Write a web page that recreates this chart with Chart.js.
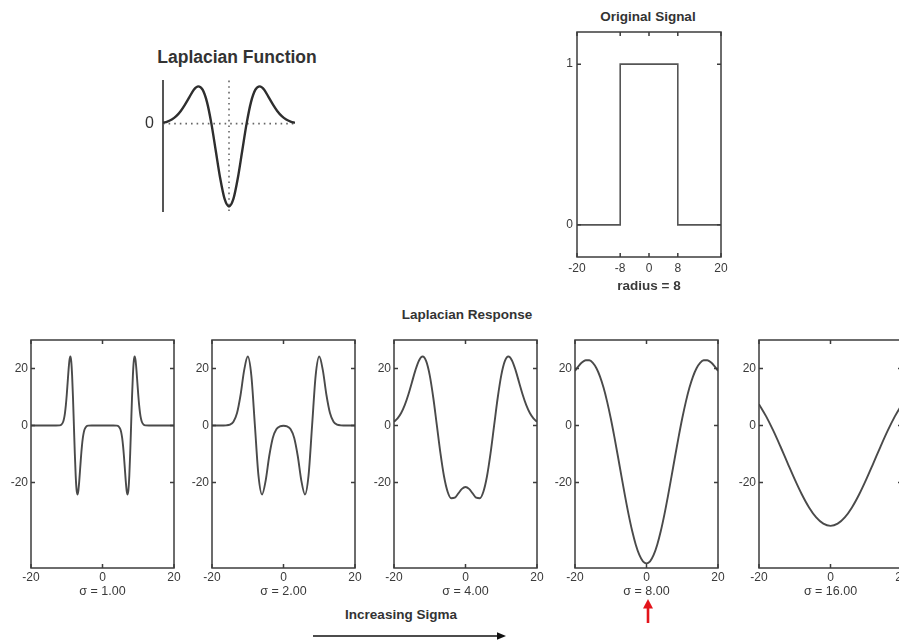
<!DOCTYPE html>
<html>
<head>
<meta charset="utf-8">
<title>Laplacian Response</title>
<script src="https://cdn.jsdelivr.net/npm/chart.js@4.4.1/dist/chart.umd.min.js"></script>
<style>
  html, body { margin: 0; padding: 0; background: #fff; }
  body { width: 899px; height: 643px; overflow: hidden; position: relative;
         font-family: 'Liberation Sans', Arial, Helvetica, sans-serif; }
  canvas { position: absolute; }
  .lbl { position: absolute; transform: translate(-50%, -50%); white-space: nowrap;
         color: #333; font-weight: bold; line-height: 1; }
  svg.deco { position: absolute; left: 0; top: 0; pointer-events: none; }
</style>
</head>
<body>

<div class="lbl" style="left:237px;top:58px;font-size:17.5px;">Laplacian Function</div>
<div class="lbl" style="left:648px;top:17px;font-size:13.5px;">Original Signal</div>
<div class="lbl" style="left:467px;top:315px;font-size:13.5px;">Laplacian Response</div>
<div class="lbl" style="left:401px;top:615px;font-size:13.5px;">Increasing Sigma</div>

<canvas id="kernel" width="165" height="168" style="left:138px;top:62px;"></canvas>
<canvas id="signal" width="188" height="275" style="left:547px;top:20px;"></canvas>
<canvas id="r1" width="197" height="272" style="left:-9px;top:328px;"></canvas>
<canvas id="r2" width="197" height="272" style="left:172px;top:328px;"></canvas>
<canvas id="r3" width="197" height="272" style="left:354px;top:328px;"></canvas>
<canvas id="r4" width="197" height="272" style="left:535px;top:328px;"></canvas>
<canvas id="r5" width="197" height="272" style="left:719px;top:328px;"></canvas>

<svg class="deco" width="899" height="643">
  <line x1="313" y1="636" x2="499" y2="636" stroke="#111" stroke-width="1.3"/>
  <polygon points="497,632.3 506,636 497,639.7" fill="#111"/>
  <line x1="648" y1="623" x2="648" y2="606" stroke="#e3141b" stroke-width="2.6"/>
  <polygon points="643,608.5 648,599 653,608.5" fill="#e3141b"/>
</svg>

<script>
// ---- Laplacian kernel profile ----
const kernelX = [-3.75, -3.5, -3.25, -3, -2.75, -2.5, -2.25, -2, -1.75, -1.5, -1.25, -1, -0.75, -0.5, -0.25,
                 0, 0.25, 0.5, 0.75, 1, 1.25, 1.5, 1.75, 2, 2.25, 2.5, 2.75, 3, 3.25, 3.5, 3.75];
const kernelY = [0.01, 0.025, 0.05, 0.09, 0.15, 0.23, 0.32, 0.41, 0.45, 0.41, 0.26, 0, -0.33, -0.66, -0.91,
                 -1, -0.91, -0.66, -0.33, 0, 0.26, 0.41, 0.45, 0.41, 0.32, 0.23, 0.15, 0.09, 0.05, 0.025, 0.01];
const kernelYTicks = [0];

// ---- Input pulse, radius 8 ----
const signalX = [-20, -8, -8, 8, 8, 20];
const signalY = [0, 0, 1, 1, 0, 0];
const signalXTicks = [-20, -8, 0, 8, 20];
const signalYTicks = [0, 1];
const signalTitle = 'radius = 8';

// ---- Responses for increasing sigma ----
const sigmaLabels = ['σ = 1.00', 'σ = 2.00', 'σ = 4.00', 'σ = 8.00', 'σ = 16.00'];
const responseXTicks = [-20, 0, 20];
const responseYTicks = [-20, 0, 20];

const resp1X = [-20, -16, -13, -12, -11.5, -11, -10.75, -10.5, -10.25, -10, -9.75, -9.5, -9.25, -9,
                -8.75, -8.5, -8.25, -8, -7.75, -7.5, -7.25, -7, -6.75, -6.5, -6.25, -6, -5.75, -5.5,
                -5.25, -5, -4.5, -4, -3, 0, 3, 4, 4.5, 5, 5.25, 5.5, 5.75, 6, 6.25, 6.5, 6.75, 7,
                7.25, 7.5, 7.75, 8, 8.25, 8.5, 8.75, 9, 9.25, 9.5, 9.75, 10, 10.25, 10.5, 10.75, 11,
                11.5, 12, 13, 16, 20];
const resp1Y = [0, 0, 0, 0.05, 0.31, 1.33, 2.5, 4.38, 7.14, 10.8, 15.1, 19.43, 22.83, 24.2,
                22.59, 17.6, 9.67, 0, -9.67, -17.6, -22.59, -24.2, -22.83, -19.43, -15.1, -10.8, -7.14, -4.38,
                -2.5, -1.33, -0.31, -0.05, 0, 0, 0, -0.05, -0.31, -1.33, -2.5, -4.38, -7.14, -10.8, -15.1, -19.43, -22.83, -24.2,
                -22.59, -17.6, -9.67, 0, 9.67, 17.6, 22.59, 24.2, 22.83, 19.43, 15.1, 10.8, 7.14, 4.38, 2.5, 1.33,
                0.31, 0.05, 0, 0, 0];

const unitX = [-20, -19, -18, -17, -16, -15, -14, -13, -12, -11, -10, -9, -8, -7, -6, -5, -4, -3, -2, -1, 0,
               1, 2, 3, 4, 5, 6, 7, 8, 9, 10, 11, 12, 13, 14, 15, 16, 17, 18, 19, 20];
const resp2Y = [0, 0, 0, 0.01, 0.05, 0.31, 1.33, 4.38, 10.8, 19.43, 24.2, 17.6, 0, -17.6, -24.2, -19.43, -10.8, -4.38, -1.33, -0.31, -0.11,
                -0.31, -1.33, -4.38, -10.8, -19.43, -24.2, -17.6, 0, 17.6, 24.2, 19.43, 10.8, 4.38, 1.33, 0.31, 0.05, 0.01, 0, 0, 0];
const resp4Y = [1.33, 2.5, 4.38, 7.14, 10.8, 15.1, 19.43, 22.83, 24.2, 22.59, 17.6, 9.65, -0.05, -9.8, -17.91, -23.24, -25.53, -25.33, -23.81, -22.24, -21.6,
                -22.24, -23.81, -25.33, -25.53, -23.24, -17.91, -9.8, -0.05, 9.65, 17.6, 22.59, 24.2, 22.83, 19.43, 15.1, 10.8, 7.14, 4.38, 2.5, 1.33];
const resp8Y = [19.12, 20.86, 22.17, 22.89, 22.87, 21.97, 20.09, 17.17, 13.22, 8.3, 2.53, -3.92, -10.8, -17.85, -24.77, -31.26, -37.03, -41.82, -45.42, -47.64, -48.39,
                -47.64, -45.42, -41.82, -37.03, -31.26, -24.77, -17.85, -10.8, -3.92, 2.53, 8.3, 13.22, 17.17, 20.09, 21.97, 22.87, 22.89, 22.17, 20.86, 19.12];

const resp16X = [-20, -18, -16, -14, -12, -10, -8, -6, -4, -2, 0, 2, 4, 6, 8, 10, 12, 14, 16, 18, 20];
const resp16Y = [7.49, 3.2, -1.82, -7.37, -13.16, -18.89, -24.2, -28.75, -32.25, -34.45, -35.21,
                 -34.45, -32.25, -28.75, -24.2, -18.89, -13.16, -7.37, -1.82, 3.2, 7.49];

// ---- drawing ----
Chart.defaults.font.family = "'Liberation Sans', Arial, Helvetica, sans-serif";
Chart.defaults.color = '#3a3a3a';

const pts = (xs, ys) => xs.map((x, i) => ({ x, y: ys[i] }));
const fixedTicks = values => scale => { scale.ticks = values.map(v => ({ value: v })); };

// full box around the plot area with short inward tick marks on all four sides
const boxFrame = {
  id: 'boxFrame',
  afterDatasetsDraw(chart, args, o) {
    const { ctx, chartArea: a, scales: { x, y } } = chart;
    ctx.save();
    ctx.strokeStyle = o.color;
    ctx.lineWidth = o.width;
    ctx.strokeRect(a.left, a.top, a.right - a.left, a.bottom - a.top);
    ctx.beginPath();
    x.ticks.forEach(t => {
      const px = x.getPixelForValue(t.value);
      ctx.moveTo(px, a.bottom); ctx.lineTo(px, a.bottom - o.tick);
      ctx.moveTo(px, a.top); ctx.lineTo(px, a.top + o.tick);
    });
    y.ticks.forEach(t => {
      const py = y.getPixelForValue(t.value);
      ctx.moveTo(a.left, py); ctx.lineTo(a.left + o.tick, py);
      ctx.moveTo(a.right, py); ctx.lineTo(a.right - o.tick, py);
    });
    ctx.stroke();
    ctx.restore();
  }
};

// dotted zero guides for the kernel sketch
const zeroGuides = {
  id: 'zeroGuides',
  beforeDatasetsDraw(chart) {
    const { ctx, chartArea: a, scales: { x, y } } = chart;
    const px = x.getPixelForValue(0), py = y.getPixelForValue(0);
    ctx.save();
    ctx.setLineDash([1.6, 4]);
    ctx.lineWidth = 1.6;
    ctx.strokeStyle = '#666';
    ctx.beginPath();
    ctx.moveTo(a.left, py); ctx.lineTo(a.right, py);
    ctx.moveTo(px, a.top); ctx.lineTo(px, a.bottom + 1);
    ctx.stroke();
    ctx.restore();
  }
};

function framedChart(id, xs, ys, o) {
  return new Chart(document.getElementById(id), {
    type: 'line',
    data: {
      datasets: [{
        data: pts(xs, ys),
        borderColor: o.lineColor,
        borderWidth: o.lineWidth,
        pointRadius: 0,
        fill: false,
        tension: 0,
        cubicInterpolationMode: o.smooth ? 'monotone' : 'default'
      }]
    },
    options: {
      responsive: false,
      animation: false,
      devicePixelRatio: 1,
      layout: { padding: { top: 12, right: 14, bottom: 0, left: 0 } },
      plugins: {
        legend: { display: false },
        tooltip: { enabled: false },
        boxFrame: { color: '#3c3c3c', width: 1.5, tick: 4 }
      },
      scales: {
        x: {
          type: 'linear', min: -20, max: 20,
          afterBuildTicks: fixedTicks(o.xTicks),
          afterFit: s => { s.height = o.xAxisH; },
          grid: { display: false, drawTicks: false },
          border: { display: false },
          ticks: { padding: o.xPad, font: { size: 12 }, autoSkip: false, maxRotation: 0 },
          title: { display: true, text: o.xTitle, font: o.xTitleFont, color: '#3a3a3a',
                   padding: { top: 0, bottom: o.xTitlePad } }
        },
        y: {
          type: 'linear', min: o.yMin, max: o.yMax,
          afterBuildTicks: fixedTicks(o.yTicks),
          afterFit: s => { s.width = o.yAxisW; },
          grid: { display: false, drawTicks: false },
          border: { display: false },
          ticks: { padding: o.yPad, font: { size: 12 } }
        }
      }
    },
    plugins: [boxFrame]
  });
}

// kernel profile
new Chart(document.getElementById('kernel'), {
  type: 'line',
  data: {
    datasets: [{
      data: pts(kernelX, kernelY),
      borderColor: '#2e2e2e', borderWidth: 2.4, pointRadius: 0, fill: false,
      cubicInterpolationMode: 'monotone'
    }]
  },
  options: {
    responsive: false, animation: false, devicePixelRatio: 1,
    layout: { padding: { top: 18, right: 8, bottom: 18, left: 0 } },
    plugins: { legend: { display: false }, tooltip: { enabled: false } },
    scales: {
      x: { type: 'linear', min: -3.75, max: 3.75, display: false },
      y: {
        type: 'linear', min: -1.06, max: 0.52,
        afterBuildTicks: fixedTicks(kernelYTicks),
        afterFit: s => { s.width = 25; },
        grid: { display: false, drawTicks: false },
        border: { display: true, color: '#555', width: 2 },
        ticks: { padding: 9, font: { size: 16 }, color: '#333' }
      }
    }
  },
  plugins: [zeroGuides]
});

// input pulse
framedChart('signal', signalX, signalY, {
  lineColor: '#555', lineWidth: 1.6, smooth: false,
  xTicks: signalXTicks, yTicks: signalYTicks, yMin: -0.2, yMax: 1.2,
  xAxisH: 38, yAxisW: 30, xPad: 4, yPad: 4,
  xTitle: signalTitle, xTitleFont: { size: 13.5, weight: 'bold' }, xTitlePad: 1
});

// responses
const responseSets = [
  ['r1', resp1X, resp1Y],
  ['r2', unitX, resp2Y],
  ['r3', unitX, resp4Y],
  ['r4', unitX, resp8Y],
  ['r5', resp16X, resp16Y]
];
responseSets.forEach(([id, xs, ys], i) => {
  framedChart(id, xs, ys, {
    lineColor: '#4a4a4a', lineWidth: 1.9, smooth: true,
    xTicks: responseXTicks, yTicks: responseYTicks, yMin: -50, yMax: 30,
    xAxisH: 32, yAxisW: 40, xPad: 2, yPad: 3,
    xTitle: sigmaLabels[i], xTitleFont: { size: 12.5 }, xTitlePad: 1
  });
});
</script>
</body>
</html>
